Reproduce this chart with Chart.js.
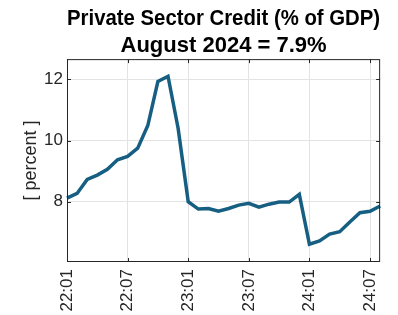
<!DOCTYPE html>
<html>
<head>
<meta charset="utf-8">
<script src="https://cdn.jsdelivr.net/npm/chart.js@4.4.1/dist/chart.umd.min.js"></script>
<style>
  html, body { margin: 0; padding: 0; background: #fff; }
  #wrap { width: 398px; height: 315px; }
</style>
</head>
<body>
<div id="wrap"><canvas id="chart"></canvas></div>
<script>
// monthly, 2022:01 .. 2024:08
const months = [
    '22:01', '22:02', '22:03', '22:04', '22:05', '22:06', '22:07', '22:08', '22:09', '22:10', '22:11', '22:12',
    '23:01', '23:02', '23:03', '23:04', '23:05', '23:06', '23:07', '23:08', '23:09', '23:10', '23:11', '23:12',
    '24:01', '24:02', '24:03', '24:04', '24:05', '24:06', '24:07', '24:08'
];
const credit = [
    8.12, 8.27, 8.73, 8.87, 9.06, 9.37, 9.48, 9.75, 10.49, 11.93, 12.10, 10.40,
    8.00, 7.76, 7.78, 7.69, 7.78, 7.89, 7.95, 7.82, 7.92, 7.99, 7.99, 8.24,
    6.61, 6.72, 6.94, 7.02, 7.34, 7.64, 7.69, 7.86
];
const xTickIdx = [0, 6, 12, 18, 24, 30];
const yTicks = [8, 10, 12];
const titleLines = ['Private Sector Credit (% of GDP)', 'August 2024 = 7.9%'];

const axisColor = '#262626';
const gridColor = '#e3e3e3';
const lineColor = '#165f82';

// box round the plot, with small inward ticks like the source figure
const boxPlugin = {
    id: 'box',
    afterDatasetsDraw(chart) {
        const { ctx, chartArea: a, scales } = chart;
        ctx.save();
        ctx.strokeStyle = axisColor;
        ctx.lineWidth = 1;
        ctx.strokeRect(a.left + 0.5, a.top + 0.5, a.right - a.left - 1, a.bottom - a.top - 1);
        const t = 4;
        ctx.beginPath();
        xTickIdx.forEach(i => {
            const x = Math.round(scales.x.getPixelForValue(i)) + 0.5;
            ctx.moveTo(x, a.bottom); ctx.lineTo(x, a.bottom - t);
            ctx.moveTo(x, a.top); ctx.lineTo(x, a.top + t);
        });
        yTicks.forEach(v => {
            const y = Math.round(scales.y.getPixelForValue(v)) + 0.5;
            ctx.moveTo(a.left, y); ctx.lineTo(a.left + t, y);
            ctx.moveTo(a.right, y); ctx.lineTo(a.right - t, y);
        });
        ctx.stroke();
        ctx.restore();
    }
};

new Chart(document.getElementById('chart'), {
    type: 'line',
    data: {
        datasets: [{
            data: credit.map((v, i) => ({ x: i, y: v })),
            borderColor: lineColor,
            borderWidth: 3.5,
            pointRadius: 0,
            tension: 0,
            clip: false
        }]
    },
    options: {
        responsive: true,
        maintainAspectRatio: false,
        animation: false,
        layout: { padding: { left: 0, right: 6, top: 0, bottom: 0 } },
        plugins: {
            legend: { display: false },
            tooltip: { enabled: false },
            title: {
                display: true,
                text: titleLines,
                fullSize: false,
                color: '#000',
                font: { family: 'Liberation Sans, Arial, sans-serif', size: 22, weight: 'bold', lineHeight: 1.23 },
                padding: { top: 5, bottom: 0 }
            }
        },
        scales: {
            x: {
                type: 'linear',
                min: 0,
                max: months.length - 1,
                afterBuildTicks(scale) {
                    scale.ticks = xTickIdx.map(v => ({ value: v }));
                },
                afterFit(scale) { scale.height = 53; },
                ticks: {
                    callback: v => months[v],
                    maxRotation: 90,
                    minRotation: 90,
                    padding: 7,
                    color: axisColor,
                    font: { family: 'Liberation Sans, Arial, sans-serif', size: 17 }
                },
                grid: { color: gridColor, tickLength: 0, drawTicks: false },
                border: { display: false }
            },
            y: {
                min: 6.03,
                max: 12.66,
                afterBuildTicks(scale) {
                    scale.ticks = yTicks.map(v => ({ value: v }));
                },
                afterFit(scale) { scale.width = 67; },
                ticks: {
                    padding: 4,
                    color: axisColor,
                    font: { family: 'Liberation Sans, Arial, sans-serif', size: 17 }
                },
                grid: { color: gridColor, tickLength: 0, drawTicks: false },
                border: { display: false },
                title: {
                    display: true,
                    text: '[ percent ]',
                    color: axisColor,
                    font: { family: 'Liberation Sans, Arial, sans-serif', size: 18 },
                    padding: { top: 20, bottom: 0 }
                }
            }
        }
    },
    plugins: [boxPlugin]
});
</script>
</body>
</html>
